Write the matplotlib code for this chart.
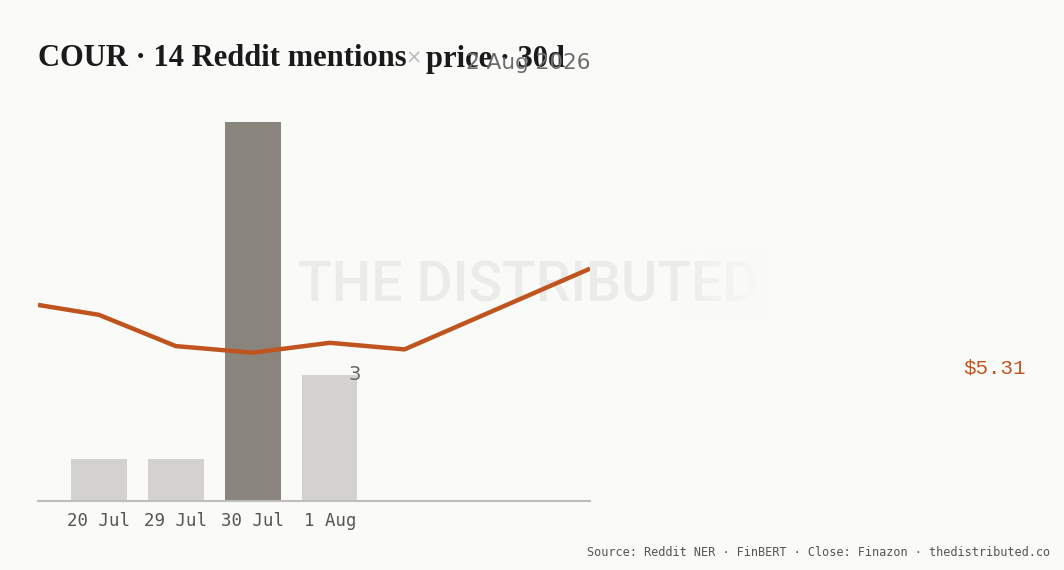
import matplotlib
matplotlib.use('Agg')
import matplotlib.pyplot as plt
import numpy as np

# mentions per day
days = ['20 Jul', '29 Jul', '30 Jul', '1 Aug']
mentions = [1, 1, 9, 3]
peak_day = '30 Jul'

# close price, x in day-slot units
price_x = [-0.79, 0.0, 1.0, 2.0, 3.0, 3.97, 6.38]
price = [5.09, 5.03, 4.84, 4.80, 4.86, 4.82, 5.31]
last_price = '$5.31'

title_main = 'COUR · 14 Reddit mentions'
title_tail = 'price · 30d'
date_txt = '2 Aug 2026'
source_txt = 'Source: Reddit NER · FinBERT · Close: Finazon · thedistributed.co'

bg = '#fafaf8'
fig = plt.figure(figsize=(10.64, 5.70), dpi=100, facecolor=bg)
ax = fig.add_axes([38/1064, 69/570, 552/1064, 379/570])
ax.set_facecolor('none')

cols = ['#8a857c' if d == peak_day else '#d3d2ce' for d in days]
ax.bar(range(len(days)), mentions, width=0.72, color=cols, zorder=2)
ax.set_xlim(-0.79, 6.38)
ax.set_ylim(0, 9)
ax.set_xticks(range(len(days)))
ax.set_xticklabels(days, family='DejaVu Sans Mono', fontsize=12.5, color='#555555')
ax.tick_params(axis='x', length=0, pad=8)
ax.set_yticks([])
for s in ['top', 'right', 'left']:
    ax.spines[s].set_visible(False)
ax.spines['bottom'].set_color('#bdbdbd')
ax.spines['bottom'].set_linewidth(1.5)

ax.text(3.32, mentions[3], str(mentions[3]), fontsize=14, color='#666666',
        family='DejaVu Sans', ha='center', va='center', zorder=3)

# watermark, behind the axes, fading at the right end
fig.text(298/1064, 1 - 286/570, 'THE DISTRIBUTED', fontsize=40, color='#ebebe9',
         family='Roboto', fontweight='medium', ha='left', va='center', zorder=-2)
fade = fig.add_axes([680/1064, 1 - 320/570, 90/1064, 70/570], zorder=-1)
grad = np.zeros((1, 100, 4))
grad[..., :3] = matplotlib.colors.to_rgb(bg)
grad[..., 3] = np.linspace(0, 1, 100) ** 0.8
fade.imshow(grad, aspect='auto', extent=[0, 1, 0, 1])
fade.axis('off')

ax2 = ax.twinx()
ax2.plot(price_x, price, color='#c0541e', lw=3.2, zorder=4, solid_capstyle='butt')
ax2.set_ylim(3.9, 6.2)
ax2.set_yticks([])
for s in ax2.spines.values():
    s.set_visible(False)

fig.text(1026/1064, 1 - 368/570, last_price, fontsize=15, color='#c0541e',
         family='Liberation Mono', ha='right', va='center')

# title
fig.text(38/1064, 1 - 59/570, title_main, fontsize=22, fontweight='bold',
         family='Liberation Serif', color='#1a1a1a', ha='left', va='center')
fig.text(414/1064, 1 - 58/570, '×', fontsize=14, color='#bbbbbb', ha='center', va='center')
fig.text(426/1064, 1 - 59/570, title_tail, fontsize=22, fontweight='bold',
         family='Liberation Serif', color='#1a1a1a', ha='left', va='center')
fig.text(590/1064, 1 - 63/570, date_txt, fontsize=15.5, color='#6b6b6b',
         family='DejaVu Sans', ha='right', va='center')

fig.text(1050/1064, 1 - 552/570, source_txt, fontsize=8.6, color='#555555',
         family='DejaVu Sans Mono', ha='right', va='center')

fig.savefig('out.png', dpi=100, facecolor=bg)
